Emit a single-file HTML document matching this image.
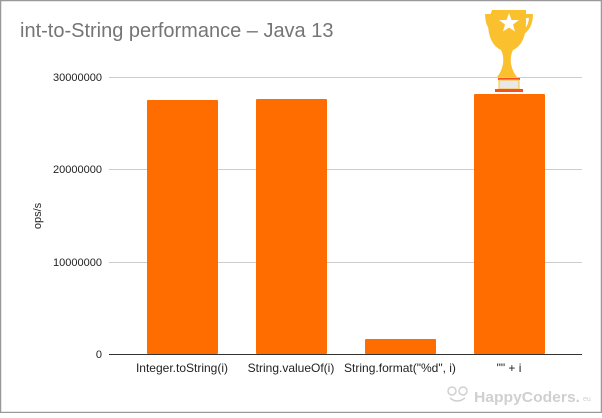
<!DOCTYPE html>
<html><head><meta charset="utf-8"><style>
html,body{margin:0;padding:0;background:#fff}
body{width:602px;height:413px;overflow:hidden}
</style></head><body>
<svg width="602" height="413" xmlns="http://www.w3.org/2000/svg" font-family="Liberation Sans, Arial, sans-serif">
<rect x="0.5" y="0.5" width="601" height="412" fill="#fff" stroke="#999" stroke-width="1.5"/>
<text x="20" y="37" font-size="20" fill="#757575">int-to-String performance – Java 13</text>
<g stroke="#cccccc" stroke-width="1">
<line x1="109" y1="77.5" x2="582" y2="77.5"/>
<line x1="109" y1="169.5" x2="582" y2="169.5"/>
<line x1="109" y1="262.5" x2="582" y2="262.5"/>
</g>
<g font-size="11" fill="#222" text-anchor="end">
<text x="102" y="81">30000000</text>
<text x="102" y="173">20000000</text>
<text x="102" y="266">10000000</text>
<text x="102" y="358">0</text>
</g>
<text transform="translate(41,216) rotate(-90)" font-size="11" fill="#222" text-anchor="middle">ops/s</text>
<g fill="#ff6d00">
<rect x="147" y="100" width="71" height="254" rx="1"/>
<rect x="256" y="99" width="71" height="255" rx="1"/>
<rect x="365" y="339" width="71" height="15" rx="1"/>
<rect x="474" y="94" width="71" height="260" rx="1"/>
</g>
<line x1="109" y1="354.5" x2="582" y2="354.5" stroke="#333" stroke-width="1"/>
<g font-size="12" fill="#222" text-anchor="middle">
<text x="182" y="372">Integer.toString(i)</text>
<text x="291" y="372">String.valueOf(i)</text>
<text x="400" y="372">String.format("%d", i)</text>
<text x="509" y="372">"" + i</text>
</g>
<!-- trophy -->
<g>
<path d="M492 10 h34 v12 q0 22 -13 28 q-3 6 -2 14 q2 9 6 13 h-20 q4 -4 6 -13 q1 -8 -2 -14 q-13 -6 -13 -28 z" fill="#fbc02d"/>
<path d="M493 14 h-8 q0 18 16 24 l1 -3 q-12 -5 -13 -17 h5 z" fill="#fbc02d"/>
<path d="M525 14 h8 q0 18 -16 24 l-1 -3 q12 -5 13 -17 h-5 z" fill="#fbc02d"/>
<polygon points="509,13 511.5,20 519,20 513,24.5 515,31.5 509,27.5 503,31.5 505,24.5 499,20 506.5,20" fill="#fff"/>
<rect x="498" y="78" width="22" height="2" fill="#f4511e"/>
<rect x="499" y="80" width="20" height="9" fill="#e8e8e8" stroke="#fbc02d" stroke-width="1"/>
<rect x="495" y="89" width="28" height="3" fill="#f4511e"/>
</g>
<text x="474" y="402" font-size="15" font-weight="bold" fill="#d0d0d0" textLength="106" lengthAdjust="spacingAndGlyphs">HappyCoders.</text>
<text x="583" y="401" font-size="7" fill="#d0d0d0">eu</text>
<g fill="none" stroke="#d0d0d0" stroke-width="1.5">
<circle cx="452" cy="391" r="4"/><circle cx="463" cy="391" r="4"/>
<path d="M450 398 q7 6 15 0"/>
</g>
</svg>
</body></html>
